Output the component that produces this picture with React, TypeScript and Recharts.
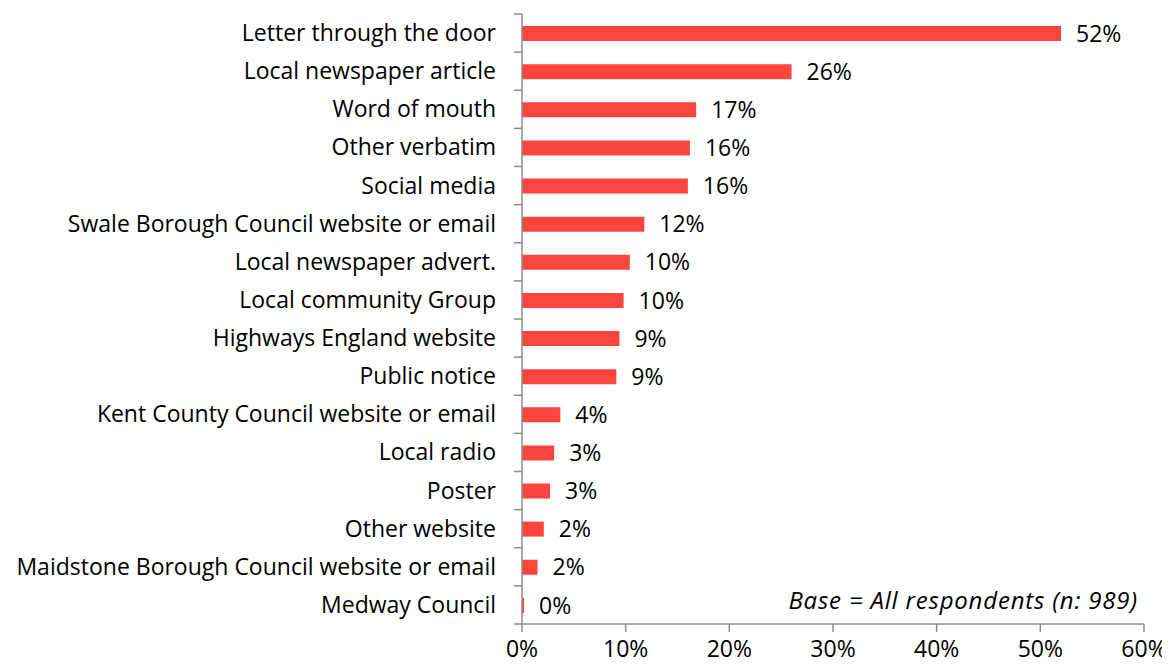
import { BarChart, Bar, XAxis, YAxis, LabelList } from 'recharts'

const categories = [
  'Letter through the door',
  'Local newspaper article',
  'Word of mouth',
  'Other verbatim',
  'Social media',
  'Swale Borough Council website or email',
  'Local newspaper advert.',
  'Local community Group',
  'Highways England website',
  'Public notice',
  'Kent County Council website or email',
  'Local radio',
  'Poster',
  'Other website',
  'Maidstone Borough Council website or email',
  'Medway Council',
]

const shares = [52.0, 26.0, 16.8, 16.2, 16.0, 11.8, 10.4, 9.8, 9.4, 9.1, 3.7, 3.1, 2.7, 2.1, 1.5, 0.2]

const xTicks = [0, 10, 20, 30, 40, 50, 60]

const FONT = '"Open Sans", sans-serif'
const FS = 23
const AXIS = '#8c8c8c'
const BAR = '#fd4540'

const TOP = 14
const BOTTOM = 624
const BAND = (BOTTOM - TOP) / categories.length

const CategoryTick = (props: any) => {
  const { x, y, payload, index } = props
  const isLast = index === categories.length - 1
  return (
    <g>
      <line x1={x + 18} x2={x + 26} y1={y - BAND / 2} y2={y - BAND / 2} stroke={AXIS} strokeWidth={1.5} />
      {isLast && (
        <line x1={x + 18} x2={x + 26} y1={y + BAND / 2} y2={y + BAND / 2} stroke={AXIS} strokeWidth={1.5} />
      )}
      <text x={x} y={y} dy="0.35em" textAnchor="end" fill="#000" fontSize={FS} fontFamily={FONT}>
        {payload.value}
      </text>
    </g>
  )
}

export default function App() {
  const data = categories.map((name, i) => ({ name, value: shares[i] }))

  return (
    <div style={{ position: 'relative', width: 1170, height: 667, margin: -8, background: '#fff' }}>
      <BarChart
        width={1170}
        height={667}
        data={data}
        layout="vertical"
        margin={{ top: TOP, right: 26, bottom: 0, left: 0 }}
        barCategoryGap={0}
      >
        <XAxis
          type="number"
          domain={[0, 60]}
          ticks={xTicks}
          tickFormatter={(v: number) => `${v}%`}
          height={667 - BOTTOM}
          stroke={AXIS}
          strokeWidth={1.5}
          tickSize={8}
          tickMargin={9}
          tick={{ fill: '#000', fontSize: FS, fontFamily: FONT }}
          interval={0}
        />
        <YAxis
          type="category"
          dataKey="name"
          width={522}
          stroke={AXIS}
          strokeWidth={1.5}
          tickLine={false}
          tickSize={8}
          tickMargin={18}
          tick={<CategoryTick />}
          interval={0}
        />
        <Bar dataKey="value" fill={BAR} barSize={15} isAnimationActive={false}>
          <LabelList
            dataKey="value"
            position="right"
            offset={15}
            formatter={(v: any) => `${Math.round(Number(v))}%`}
            style={{ fill: '#000', fontSize: FS, fontFamily: FONT }}
          />
        </Bar>
      </BarChart>
      <div
        style={{
          position: 'absolute',
          right: 32,
          top: 583,
          fontFamily: FONT,
          fontStyle: 'italic',
          fontSize: 24,
          letterSpacing: 0.8,
          color: '#000',
          whiteSpace: 'nowrap',
        }}
      >
        Base = All respondents (n: 989)
      </div>
    </div>
  )
}
